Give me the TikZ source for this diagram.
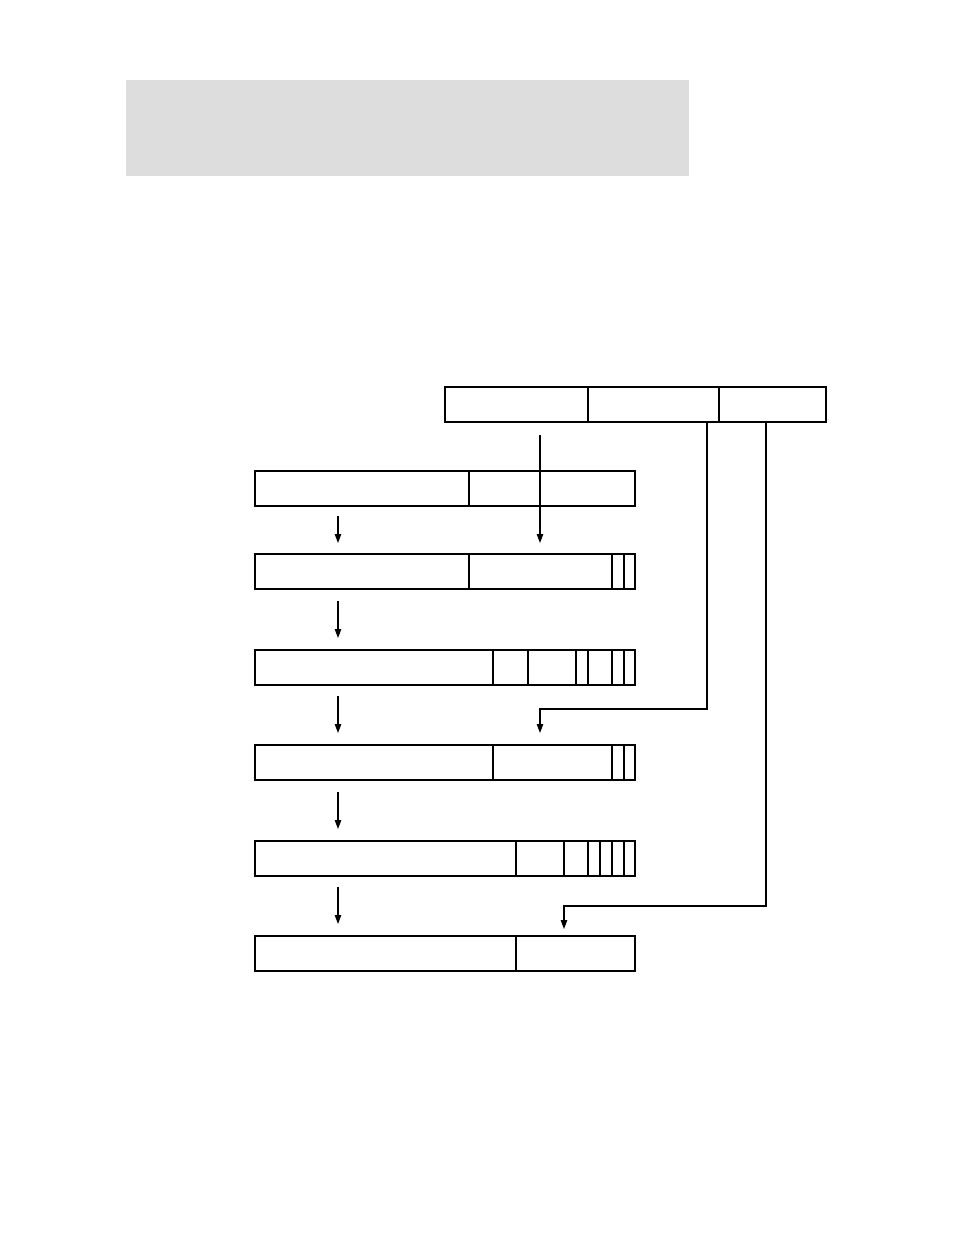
\documentclass[tikz,border=0pt]{standalone}
\usetikzlibrary{arrows.meta}
\definecolor{bandgray}{HTML}{DCDDDC}
\tikzset{
  cell/.style={draw, line width=1.1pt, minimum height=35pt, inner sep=0pt, outer sep=0pt, anchor=north west},
  arr/.style={line width=1.1pt, -{Triangle[width=6.5pt,length=9pt]}},
  band/.style={fill=bandgray, draw=none, inner sep=0pt, outer sep=0pt, anchor=north west}
}
\newcommand{\rowcells}[3]{% name prefix, y, list of x positions
  \foreach \a/\b [count=\i] in {#3} {
    \pgfmathsetmacro{\w}{\b-\a}
    \node[cell, minimum width=\w pt] (#1\i) at (\a,#2) {};
  }
}
\begin{document}
\begin{tikzpicture}[x=1pt,y=-1pt]
\useasboundingbox (0,0) rectangle (954,1235);
\node[band, minimum width=563pt, minimum height=96pt] (title) at (126,80) {};
% top word
\rowcells{t}{387}{445/588,588/719,719/826}
% rows
\rowcells{ra}{471}{255/469,469/635}
\rowcells{rb}{554}{255/469,469/612,612/624,624/635}
\rowcells{rc}{650}{255/493,493/528,528/576,576/588,588/612,612/624,624/635}
\rowcells{rd}{745}{255/493,493/612,612/624,624/635}
\rowcells{re}{841}{255/516,516/564,564/588,588/600,600/612,612/624,624/635}
\rowcells{rf}{936}{255/516,516/635}
% left column arrows
\coordinate (L) at (338,0);
\draw[arr, shorten <=10pt, shorten >=11pt] (L |- ra1.south) -- (L |- rb1.north);
\draw[arr, shorten <=12pt, shorten >=12pt] (L |- rb1.south) -- (L |- rc1.north);
\draw[arr, shorten <=11pt, shorten >=12pt] (L |- rc1.south) -- (L |- rd1.north);
\draw[arr, shorten <=12pt, shorten >=12pt] (L |- rd1.south) -- (L |- re1.north);
\draw[arr, shorten <=11pt, shorten >=12pt] (L |- re1.south) -- (L |- rf1.north);
% long arrow from top word to second row
\coordinate (M) at (540,0);
\draw[arr, shorten <=13pt, shorten >=11pt] (M |- t1.south) -- (M |- rb2.north);
% from second field
\coordinate (P) at (707,0);
\coordinate (Pb) at (707,709);
\draw[arr, shorten >=12pt] (P |- t2.south) -- (Pb) -| (M |- rd2.north);
% from third field
\coordinate (Q) at (766,0);
\coordinate (Qb) at (766,906);
\coordinate (S) at (564,0);
\draw[arr, shorten >=7pt] (Q |- t3.south) -- (Qb) -| (S |- rf2.north);
\end{tikzpicture}
\end{document}
